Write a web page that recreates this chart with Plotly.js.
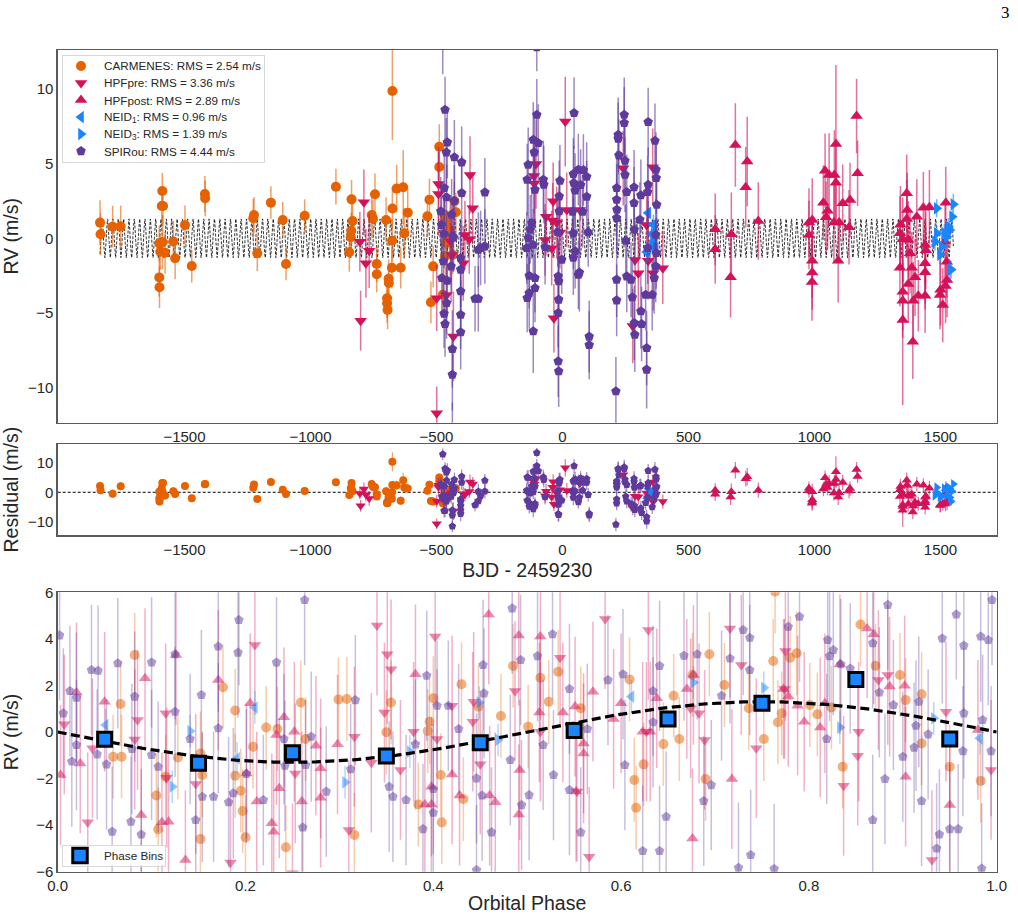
<!DOCTYPE html>
<html>
<head>
<meta charset="utf-8">
<script src="https://cdn.plot.ly/plotly-3.0.1.min.js"></script>
<style>
  html, body { margin: 0; padding: 0; background: #ffffff; }
  #chart { width: 1018px; height: 914px; }
</style>
</head>
<body>
<div id="chart"></div>
<script>
// ---- Time series: [BJD - 2459230, RV (m/s), sigma (m/s)] per instrument ----
const carmenesRows = [
  [-1835, 1.05, 1.5], [-1833, 0.27, 1.4], [-1785, 0.78, 1.4], [-1753, 0.80, 1.4],
  [-1600, -0.34, 1.2], [-1588, 3.17, 1.2], [-1590, 2.16, 1.3], [-1585, 2.16, 1.3],
  [-1587, -0.25, 1.8], [-1596, -0.90, 1.2], [-1600, -2.62, 1.3], [-1599, -3.28, 1.4],
  [-1577, -0.97, 1.4], [-1544, -0.22, 1.4], [-1537, -1.34, 1.4], [-1498, 0.89, 1.3],
  [-1471, -1.86, 1.1], [-1419, 2.97, 1.2], [-1418, 2.68, 1.2], [-1227, 1.34, 1.3],
  [-1224, 1.56, 1.2], [-1211, -1.00, 1.2], [-1157, 2.39, 1.1], [-1110, 1.23, 1.2],
  [-1097, -1.72, 1.1], [-1023, 1.51, 1.1], [-899, 3.46, 1.2], [-837, 2.61, 1.3],
  [-833, 1.16, 1.2], [-838, 0.51, 1.2], [-840, 0.07, 1.2], [-846, -0.94, 1.3],
  [-757, 1.56, 1.5], [-752, 1.30, 1.3], [-744, 2.95, 1.4], [-737, -1.72, 1.2],
  [-737, -2.41, 1.2], [-700, 1.23, 1.5], [-690, -2.71, 1.3], [-689, -3.00, 1.3],
  [-696, -4.02, 1.3], [-696, -4.35, 1.3], [-694, -4.80, 1.3], [-675, 9.87, 3.3],
  [-675, 2.00, 1.4], [-676, -0.16, 1.4], [-677, -1.97, 1.4], [-658, 3.33, 1.6],
  [-642, -1.97, 1.4], [-632, 3.42, 2.5], [-628, 0.33, 1.7], [-614, 1.72, 1.6],
  [-528, 2.59, 1.4], [-536, 1.47, 1.4], [-513, -1.88, 1.4], [-522, -4.29, 1.4],
  [-489, 6.14, 1.5], [-489, 4.78, 1.5], [-466, 1.10, 1.4], [-462, -0.30, 1.4],
  [-466, -1.20, 1.3], [-446, 0.30, 1.3], [-423, 1.74, 1.3], [-429, 2.48, 1.3],
  [-449, 0.58, 1.3], [-460, -0.32, 1.3], [-475, -3.78, 1.4], [-468, 1.58, 1.3],
  [-436, -1.10, 1.3]
];
const hpfPreRows = [
  [-788, 2.41, 2.2], [-804, -0.23, 2.0], [-767, -0.83, 2.5], [-780, -1.68, 2.3],
  [-801, -5.52, 2.0], [-499, -4.02, 2.2], [-499, -11.73, 1.8], [-492, 3.64, 2.5],
  [-492, 2.97, 2.8], [-460, -3.80, 2.6], [-433, -6.59, 3.0], [-440, -1.12, 2.5],
  [-445, -0.20, 2.5], [-367, 4.24, 2.6], [-356, 2.01, 2.4], [-387, 0.22, 2.3],
  [-370, -0.07, 2.3], [-394, -1.68, 2.5], [11, 7.82, 3.0], [-105, 4.98, 3.0],
  [-113, 4.17, 2.5], [-112, 3.68, 2.5], [-65, 1.45, 2.6], [-39, 1.20, 2.5],
  [-37, 2.48, 2.6], [-23, 1.05, 2.4], [-10, 0.38, 2.4], [-69, -0.11, 2.4],
  [-43, -0.67, 2.5], [-34, -5.36, 2.3], [17, 1.90, 2.5], [69, 1.90, 2.5],
  [241, 4.69, 2.5], [288, -1.45, 2.6], [301, -2.35, 2.7], [279, -5.88, 2.5],
  [358, 4.76, 2.6], [334, 0.89, 2.5], [340, -1.50, 2.6], [398, -2.01, 2.4],
  [360, -2.35, 2.5]
];
const hpfPostRows = [
  [686, 6.25, 2.8], [733, 5.14, 3.0], [727, 3.42, 2.7], [777, 1.16, 2.6],
  [606, 0.60, 2.4], [606, -0.74, 2.3], [670, 0.27, 2.8], [667, -2.61, 2.7],
  [978, 1.05, 2.3], [991, 1.23, 2.8], [978, 0.22, 2.3], [991, -1.50, 2.5],
  [991, -2.30, 2.5], [990, -2.93, 2.6], [1042, 4.53, 2.5], [1058, 4.24, 2.8],
  [1079, 4.24, 3.0], [1085, 6.32, 5.3], [1085, 3.73, 2.8], [1035, 2.39, 2.5],
  [1052, 1.85, 2.6], [1046, 1.41, 2.4], [1077, 1.05, 2.6], [1098, 1.05, 2.5],
  [1112, 2.35, 2.6], [1141, 2.57, 2.5], [1137, 0.74, 2.5], [1167, 8.20, 2.5],
  [1171, 4.36, 2.2], [1094, -1.50, 2.8], [1339, 0.33, 2.5], [1341, 0.90, 2.6],
  [1366, 3.02, 2.6], [1368, 1.90, 2.5], [1366, 1.30, 2.6], [1350, -0.07, 2.8],
  [1372, -0.10, 2.6], [1379, -1.00, 2.7], [1339, -1.97, 2.6], [1386, -1.97, 2.4],
  [1350, -3.58, 2.6], [1350, -4.18, 2.5], [1350, -5.47, 5.7], [1372, -3.06, 2.6],
  [1399, -2.61, 2.6], [1392, -4.18, 2.6], [1390, -6.93, 2.5], [1406, 1.45, 2.5],
  [1412, -3.85, 2.4], [1432, 2.05, 2.4], [1439, -0.45, 2.6], [1439, -1.68, 2.7],
  [1439, -2.28, 2.5], [1439, -3.85, 2.5], [1456, 2.08, 2.5], [1442, -0.80, 2.6],
  [1521, 2.39, 2.4], [1518, -0.23, 2.5], [1525, -1.57, 2.4], [1526, -2.80, 2.5],
  [1498, -3.80, 2.3], [1509, -4.47, 2.5], [1500, -3.45, 2.4], [1520, -3.20, 2.5]
];
const neid1Rows = [
  [340, 1.70, 0.8], [361, 0.90, 0.7], [355, 0.30, 0.7], [361, -0.20, 0.7],
  [370, -0.65, 0.7], [334, -0.92, 0.7], [350, -0.50, 0.6], [366, 0.10, 0.7]
];
const neid3Rows = [
  [1485, 2.01, 0.6], [1551, 2.28, 0.7], [1546, 1.45, 0.6], [1531, 0.78, 0.6],
  [1537, 0.55, 0.6], [1485, 0.33, 0.6], [1478, -0.23, 0.6], [1505, -0.56, 0.6],
  [1498, -1.12, 0.6], [1525, 0.10, 0.6], [1538, -2.12, 0.7], [1542, -2.10, 0.6],
  [1515, 0.35, 0.6]
];
const spirouRows = [
  [-475, 13.0, 2.0], [-466, 8.62, 2.2], [-457, 6.43, 2.4], [-461, 5.76, 2.3],
  [-429, 5.43, 2.5], [-400, 5.09, 2.4], [-400, 3.04, 2.5], [-308, 3.08, 2.3],
  [-469, 3.37, 2.3], [-460, 2.75, 2.2], [-429, 2.52, 2.4], [-483, 1.81, 2.3],
  [-440, 1.58, 2.4], [-436, 0.13, 2.3], [-432, 0.05, 2.3], [-334, -0.76, 2.5],
  [-325, -0.65, 2.5], [-308, -0.54, 2.5], [-473, -1.54, 2.2], [-442, -1.88, 2.4],
  [-404, -1.32, 2.5], [-404, -2.10, 2.5], [-479, -2.66, 2.3], [-457, -2.84, 2.4],
  [-404, -3.55, 2.5], [-460, -4.34, 2.4], [-347, -4.05, 2.2], [-334, -4.05, 2.2],
  [-470, -5.05, 2.3], [-466, -5.74, 2.2], [-404, -5.12, 2.3], [-404, -6.30, 2.5],
  [-437, -7.42, 2.6], [-437, -9.14, 2.4], [-437, -12.9, 1.9], [-480, 0.90, 2.2],
  [-470, 0.30, 2.3],
  [-102, 12.8, 1.6], [-102, 8.28, 2.4], [-116, 6.61, 2.5], [-96, 6.39, 2.6],
  [-112, 5.76, 2.5], [-136, 4.93, 2.5], [-140, 3.93, 2.4], [-76, 3.93, 2.6],
  [-74, 3.60, 2.6], [-109, 3.26, 2.5], [-10, 3.86, 2.4], [-13, 2.81, 2.4],
  [-13, 1.81, 2.4], [46, 8.40, 2.4], [43, 4.31, 2.4], [63, 4.60, 2.4],
  [45, 3.70, 2.5], [50, 3.20, 2.5], [-122, 1.03, 2.4], [-128, 0.60, 2.3],
  [-136, 0.02, 2.4], [-116, -0.43, 2.4], [-142, -0.65, 2.4], [-69, -0.60, 2.5],
  [-3, -1.43, 2.3], [50, -0.87, 2.5], [63, -2.44, 2.3], [-132, -2.51, 2.2],
  [-109, -2.66, 2.3], [-109, -3.33, 2.3], [-132, -3.67, 2.4], [-140, -4.00, 2.3],
  [-17, -2.55, 2.4], [-15, -2.88, 2.4], [-15, -4.11, 2.4], [-17, -5.00, 2.3],
  [-116, -6.23, 2.8], [-17, -8.24, 2.4], [-15, -8.91, 2.4], [83, 4.58, 2.4],
  [96, 4.13, 2.3], [72, 3.57, 2.4], [96, 2.79, 2.4], [40, 1.78, 2.4],
  [80, 1.78, 2.4], [43, 0.33, 2.4], [102, 0.40, 2.3], [43, -1.30, 2.5],
  [67, -2.30, 2.6], [106, -6.59, 2.4], [106, -7.15, 2.3], [-19, 0.40, 2.3],
  [245, 8.28, 2.5], [245, 7.73, 2.4], [221, 6.94, 2.5], [221, 6.68, 2.4],
  [224, 5.56, 2.4], [248, 5.20, 2.4], [248, 4.26, 2.5], [215, 3.37, 2.5],
  [215, 2.59, 2.4], [216, 1.92, 2.4], [215, 1.36, 2.4], [255, 3.10, 2.5],
  [284, 3.42, 2.5], [284, 2.37, 2.4], [311, 2.88, 2.4], [340, 7.79, 2.3],
  [367, 6.54, 2.5], [371, 4.60, 2.5], [372, 4.04, 2.4], [340, 3.59, 2.5],
  [338, 3.10, 2.4], [374, 2.25, 2.4], [307, 1.25, 2.5], [285, 0.58, 2.4],
  [251, -0.16, 2.4], [338, -0.65, 2.4], [370, 0.24, 2.4], [372, -0.99, 2.4],
  [370, -1.88, 2.4], [364, -2.66, 2.4], [215, -2.77, 2.5], [215, -4.16, 2.4],
  [255, -2.55, 2.4], [272, -2.77, 2.5], [277, -3.95, 2.5], [330, -3.78, 2.4],
  [356, -3.78, 2.4], [311, -4.89, 2.5], [285, -5.68, 2.5], [287, -6.46, 2.5],
  [314, -5.74, 2.5], [334, -7.35, 2.5], [334, -8.80, 2.6], [212, -10.25, 2.3]
];

// ---- Phase-folded RVs: [orbital phase, RV (m/s)] per instrument ----
const carmenesPhase = [
  [0.082, 3.31], [0.067, 1.20], [0.059, -1.06], [0.068, -1.06], [0.105, -2.73], [0.107, -4.18],
  [0.115, -1.92], [0.128, -1.09], [0.152, -0.92], [0.154, -1.85], [0.152, -4.60], [0.176, 1.92],
  [0.189, 0.92], [0.189, -1.88], [0.195, -2.52], [0.197, -3.39], [0.200, -4.52], [0.208, -0.63],
  [0.222, 0.19], [0.234, 0.13], [0.243, -4.95], [0.259, 1.27], [0.264, -0.30], [0.299, 1.40],
  [0.308, 1.42], [0.316, -4.42], [0.355, 1.27], [0.350, -0.01], [0.384, -3.11], [0.394, 0.04],
  [0.396, 0.44], [0.400, 1.45], [0.409, -3.88], [0.408, -1.85], [0.430, 2.05], [0.432, -2.88],
  [0.448, 1.09], [0.472, 0.69], [0.485, 2.84], [0.501, 0.23], [0.514, 2.33], [0.523, 1.30],
  [0.533, 2.59], [0.557, 1.02], [0.609, 2.26], [0.614, -2.06], [0.616, -3.25], [0.624, -1.39],
  [0.645, -0.52], [0.656, 1.56], [0.662, -0.30], [0.676, 2.45], [0.690, -2.02], [0.694, 3.34],
  [0.710, 2.02], [0.736, 1.02], [0.752, -0.30], [0.762, 3.05], [0.764, 6.03], [0.767, 0.42],
  [0.771, 0.80], [0.780, 3.19], [0.787, 3.38], [0.801, 1.16], [0.809, 0.76], [0.824, 1.05],
  [0.836, -1.49], [0.855, 4.62], [0.871, 2.85], [0.897, 2.45], [0.903, 1.37], [0.920, 1.62],
  [0.920, -0.49], [0.950, -1.49], [0.983, -2.10]
];
const hpfPrePhase = [
  [0.007, 0.33], [0.032, -3.88], [0.037, -0.70], [0.082, -0.32], [0.085, 0.52], [0.115, 0.80],
  [0.116, -1.96], [0.147, -2.23], [0.184, -5.61], [0.210, 3.74], [0.253, -1.78], [0.250, -6.07],
  [0.310, -4.21], [0.316, -0.20], [0.334, -1.32], [0.340, 4.57], [0.348, 0.84], [0.351, 3.34],
  [0.355, 2.69], [0.365, -1.63], [0.379, 0.01], [0.402, 4.10], [0.404, -0.30], [0.420, 1.13],
  [0.442, 0.44], [0.443, 1.30], [0.450, -1.39], [0.487, 1.76], [0.514, 0.01], [0.535, 3.19],
  [0.553, -2.56], [0.566, -5.36], [0.583, 4.85], [0.629, 4.38], [0.627, 0.01], [0.674, 1.02],
  [0.683, 0.80], [0.689, -0.34], [0.716, 4.45], [0.728, 2.88], [0.744, -0.70], [0.775, 3.48],
  [0.774, 1.85], [0.837, -2.31], [0.853, 0.01], [0.852, -1.02], [0.874, 2.23], [0.884, 2.45],
  [0.931, -5.50], [0.946, 0.87], [0.994, -1.63]
];
const hpfPostPhase = [
  [0.003, -1.85], [0.020, 1.70], [0.024, -1.35], [0.050, 1.30], [0.089, -3.57], [0.093, 2.31],
  [0.111, -3.88], [0.118, -3.85], [0.126, 3.31], [0.136, -5.50], [0.171, 2.23], [0.205, 1.23],
  [0.201, -1.78], [0.212, -2.99], [0.228, -3.92], [0.230, -4.28], [0.236, -2.42], [0.233, -0.13],
  [0.241, 0.63], [0.252, 0.01], [0.260, -2.99], [0.275, -0.59], [0.280, -1.56], [0.280, -2.82],
  [0.298, -0.53], [0.381, 2.48], [0.391, -3.11], [0.398, -3.11], [0.398, -2.35], [0.420, -1.82],
  [0.428, -2.73], [0.459, 5.05], [0.460, -2.73], [0.466, -3.02], [0.491, 4.14], [0.491, -3.54],
  [0.492, -1.63], [0.513, 0.84], [0.514, 4.10], [0.538, 0.84], [0.551, 1.09], [0.552, -2.56],
  [0.560, -0.49], [0.560, -0.92], [0.570, 1.73], [0.592, 0.56], [0.600, 1.23], [0.623, 0.01],
  [0.638, 1.45], [0.631, 0.01], [0.670, 1.85], [0.676, -4.57], [0.677, 2.45], [0.718, -2.02],
  [0.773, 1.85], [0.778, 1.52], [0.788, 1.13], [0.795, 0.44], [0.812, 0.19], [0.817, 1.23],
  [0.833, 2.91], [0.862, 4.45], [0.869, 4.20], [0.886, 1.95], [0.902, 1.99], [0.903, -1.92],
  [0.950, -3.14], [0.980, 0.09]
];
const neid1Phase = [[0.051, 0.30], [0.191, -1.13], [0.210, 1.05], [0.611, 1.52], [0.982, -0.27]];
const neid3Phase = [
  [0.141, 0.04], [0.122, -2.35], [0.306, -2.16], [0.375, -0.84], [0.449, 1.27],
  [0.469, -0.34], [0.677, 2.13], [0.752, 1.90], [0.833, 0.19], [0.933, 0.59]
];
const spirouPhase = [
  [0.002, 4.15], [0.006, 0.80], [0.013, 1.76], [0.020, 1.47], [0.020, -0.56], [0.015, -1.27],
  [0.036, 2.66], [0.043, 2.63], [0.042, -0.96], [0.052, -1.39], [0.058, -4.28], [0.064, 2.95],
  [0.078, -3.85], [0.079, -0.73], [0.082, 1.52], [0.089, -4.40], [0.100, 2.99], [0.100, -0.99],
  [0.107, -1.49], [0.125, 3.34], [0.125, 0.87], [0.141, -0.30], [0.147, -3.78], [0.153, 1.59],
  [0.154, -2.78], [0.166, -2.78], [0.171, 3.67], [0.171, 0.16], [0.182, -3.02], [0.187, -2.63],
  [0.192, 3.41], [0.193, 4.81], [0.201, -1.80], [0.219, -2.92], [0.233, 2.99], [0.241, -0.30],
  [0.242, -1.45], [0.261, -4.10], [0.263, 5.67], [0.264, -1.42], [0.270, -0.20], [0.286, -2.56],
  [0.317, 1.37], [0.312, -1.60], [0.353, -2.35], [0.357, -2.78], [0.371, -2.92], [0.381, -0.53],
  [0.389, -4.17], [0.393, 2.42], [0.400, -2.45], [0.400, -3.47], [0.404, 1.13], [0.416, 1.13],
  [0.427, 0.13], [0.446, -5.93], [0.446, -1.99], [0.452, -2.73], [0.453, 2.88], [0.454, 1.66],
  [0.462, -4.31], [0.482, -1.20], [0.484, 5.31], [0.493, 3.09], [0.494, -3.14], [0.502, -2.71],
  [0.511, 3.26], [0.517, -0.56], [0.527, 4.20], [0.528, -1.85], [0.545, 1.85], [0.545, -2.49],
  [0.557, -4.31], [0.564, 0.13], [0.586, 2.23], [0.602, 2.48], [0.604, -1.42], [0.623, -5.11],
  [0.634, 1.76], [0.634, 0.42], [0.641, -5.11], [0.641, 2.84], [0.648, -3.64], [0.667, 3.28],
  [0.681, 3.34], [0.688, -2.96], [0.696, -2.28], [0.707, 1.56], [0.716, 3.16], [0.725, -5.83],
  [0.730, 4.38], [0.737, 4.05], [0.737, 2.66], [0.738, -5.28], [0.763, -5.88], [0.778, 4.52],
  [0.790, 4.95], [0.819, -0.30], [0.820, 3.95], [0.822, 3.26], [0.826, 3.52], [0.834, 2.91],
  [0.844, 2.73], [0.868, 3.81], [0.868, -3.78], [0.875, 1.70], [0.881, -2.02], [0.884, 5.46],
  [0.890, 1.16], [0.900, -1.06], [0.912, -0.67], [0.914, 0.27], [0.917, 1.30], [0.920, -2.96],
  [0.927, -0.10], [0.936, -5.00], [0.939, -4.40], [0.942, 4.02], [0.950, -4.17], [0.957, 5.05],
  [0.959, -4.17], [0.964, -0.82], [0.965, 3.71], [0.965, 0.80], [0.983, 4.10], [0.984, -5.86],
  [0.985, 0.52], [0.991, 3.95], [0.994, -0.82], [0.995, 5.67]
];
// typical per-point uncertainty for each instrument in the folded panel (m/s)
const phaseSigma = { carmenes: 1.8, hpfPre: 3.0, hpfPost: 3.0, neid: 0.7, spirou: 2.8 };

// ---- Binned phase curve ----
const binPhase = [0.05, 0.15, 0.25, 0.35, 0.45, 0.55, 0.65, 0.75, 0.85, 0.95];
const binRV    = [-0.31, -1.34, -0.89, -1.03, -0.46, 0.06, 0.56, 1.23, 2.26, -0.30];

// ---- Instrument labels ----
const labels = {
  carmenes: 'CARMENES: RMS = 2.54 m/s',
  hpfPre:   'HPFpre: RMS = 3.36 m/s',
  hpfPost:  'HPFpost: RMS = 2.89 m/s',
  neid1:    'NEID<sub>1</sub>: RMS = 0.96 m/s',
  neid3:    'NEID<sub>3</sub>: RMS = 1.39 m/s',
  spirou:   'SPIRou: RMS = 4.44 m/s'
};
const binLabel = 'Phase Bins';

// ---- Circular-orbit model ----
const K_SEMI = 1.3;       // semi-amplitude, m/s
const PERIOD = 21.2;      // days
const T_REF = -1800;      // reference epoch, BJD - 2459230
const T_START = -1835, T_END = 1551;

function orbitRV(t) { return -K_SEMI * Math.sin(2 * Math.PI * (t - T_REF) / PERIOD); }

const modelT = [];
for (let t = T_START; t <= T_END; t += 0.5) modelT.push(t);
const modelV = modelT.map(orbitRV);

const foldPhase = [];
for (let i = 0; i <= 200; i++) foldPhase.push(i / 200);
const foldV = foldPhase.map(p => -K_SEMI * Math.sin(2 * Math.PI * p));

// ---- Styling ----
const COL = { carmenes: '#E66100', hpf: '#D41159', neid: '#1A85FF', spirou: '#5D3A9B' };
function rgba(hex, a) {
  const n = parseInt(hex.slice(1), 16);
  return `rgba(${(n >> 16) & 255},${(n >> 8) & 255},${n & 255},${a})`;
}
const FONT = 'Liberation Sans, Arial, Helvetica, sans-serif';
const LEGEND_FONT = { family: FONT, size: 11.7, color: '#262626' };

const instruments = [
  { key: 'carmenes', rows: carmenesRows, phase: carmenesPhase, color: COL.carmenes, symbol: 'circle', size: 10, sig: phaseSigma.carmenes },
  { key: 'hpfPre', rows: hpfPreRows, phase: hpfPrePhase, color: COL.hpf, symbol: 'triangle-down', size: 11, sig: phaseSigma.hpfPre },
  { key: 'hpfPost', rows: hpfPostRows, phase: hpfPostPhase, color: COL.hpf, symbol: 'triangle-up', size: 11, sig: phaseSigma.hpfPost },
  { key: 'neid1', rows: neid1Rows, phase: neid1Phase, color: COL.neid, symbol: 'triangle-left', size: 11, sig: phaseSigma.neid },
  { key: 'neid3', rows: neid3Rows, phase: neid3Phase, color: COL.neid, symbol: 'triangle-right', size: 11, sig: phaseSigma.neid },
  { key: 'spirou', rows: spirouRows, phase: spirouPhase, color: COL.spirou, symbol: 'pentagon', size: 10, sig: phaseSigma.spirou }
];

const traces = [];

// model curve in the time-series panel
traces.push({
  x: modelT, y: modelV, xaxis: 'x', yaxis: 'y', type: 'scatter', mode: 'lines',
  line: { color: '#000000', width: 0.8, dash: '3px,1.5px' }, showlegend: false, hoverinfo: 'skip'
});

// time series + residuals
instruments.forEach(ins => {
  const t = ins.rows.map(r => r[0]);
  const v = ins.rows.map(r => r[1]);
  const e = ins.rows.map(r => r[2]);
  const res = ins.rows.map(r => r[1] - orbitRV(r[0]));
  traces.push({
    x: t, y: v, xaxis: 'x', yaxis: 'y', type: 'scatter', mode: 'markers', showlegend: false,
    marker: { color: ins.color, symbol: ins.symbol, size: ins.size, line: { width: 0 } },
    error_y: { type: 'data', array: e, visible: true, color: rgba(ins.color, 0.6), thickness: 1.5, width: 0 }
  });
  traces.push({
    x: t, y: res, xaxis: 'x2', yaxis: 'y2', type: 'scatter', mode: 'markers', showlegend: false,
    marker: { color: ins.color, symbol: ins.symbol, size: ins.size - 2, line: { width: 0 } },
    error_y: { type: 'data', array: e, visible: true, color: rgba(ins.color, 0.6), thickness: 1.2, width: 0 }
  });
});

// phase-folded points
instruments.forEach(ins => {
  traces.push({
    x: ins.phase.map(r => r[0]), y: ins.phase.map(r => r[1]), xaxis: 'x3', yaxis: 'y3',
    type: 'scatter', mode: 'markers', showlegend: false,
    marker: { color: rgba(ins.color, 0.5), symbol: ins.symbol, size: ins.size, line: { width: 0 } },
    error_y: { type: 'constant', value: ins.sig, visible: true, color: rgba(ins.color, 0.33), thickness: 1.5, width: 0 }
  });
});

// folded model curve
traces.push({
  x: foldPhase, y: foldV, xaxis: 'x3', yaxis: 'y3', type: 'scatter', mode: 'lines',
  line: { color: '#000000', width: 3.2, dash: '9px,4.5px' }, showlegend: false, hoverinfo: 'skip'
});

// phase bins
traces.push({
  x: binPhase, y: binRV, xaxis: 'x3', yaxis: 'y3', type: 'scatter', mode: 'markers', showlegend: false,
  marker: { color: '#1A85FF', symbol: 'square', size: 14, line: { color: '#000000', width: 3 } }
});

// ---- Legend keys: one row per instrument in an inset box ----
const LEG_KEY_X = 17.7, LEG_TEXT_X = 38.4;   // px from the box's left edge
instruments.forEach((ins, i) => {
  traces.push({
    x: [LEG_KEY_X], y: [i], xaxis: 'x4', yaxis: 'y4', type: 'scatter', mode: 'markers',
    showlegend: false, hoverinfo: 'skip',
    marker: { color: ins.color, symbol: ins.symbol, size: ins.size, line: { width: 0 } }
  });
});
traces.push({
  x: [16.7], y: [0], xaxis: 'x5', yaxis: 'y5', type: 'scatter', mode: 'markers',
  showlegend: false, hoverinfo: 'skip',
  marker: { color: '#1A85FF', symbol: 'square', size: 14.5, line: { color: '#000000', width: 3 } }
});

const axisCommon = {
  showgrid: false, zeroline: false, showline: true, mirror: true,
  linecolor: '#5a5a5a', linewidth: 1.3, ticks: '',
  tickfont: { family: FONT, size: 15, color: '#262626' }
};
const legendAxis = {
  showgrid: false, zeroline: false, showline: true, mirror: true,
  linecolor: '#d8d8d8', linewidth: 1, ticks: '', showticklabels: false, fixedrange: true
};
const titleFont = { family: FONT, size: 19.5, color: '#262626' };

const W = 1018, H = 914;
const px = v => v / W, py = v => 1 - v / H;
const xDomain = [px(57.7), px(996.7)];

const legendAnnotations = instruments.map((ins, i) => ({
  text: labels[ins.key], xref: 'x4', yref: 'y4', x: LEG_TEXT_X, y: i,
  xanchor: 'left', yanchor: 'middle', showarrow: false, font: LEGEND_FONT
}));
legendAnnotations.push({
  text: binLabel, xref: 'x5', yref: 'y5', x: LEG_TEXT_X, y: 0,
  xanchor: 'left', yanchor: 'middle', showarrow: false, font: LEGEND_FONT
});

const layout = {
  width: W, height: H,
  margin: { l: 0, r: 0, t: 0, b: 0 },
  paper_bgcolor: '#ffffff', plot_bgcolor: '#ffffff',
  font: { family: FONT, color: '#262626' },
  showlegend: false,
  xaxis: Object.assign({}, axisCommon, {
    domain: xDomain, anchor: 'y', range: [-2003, 1723],
    tickvals: [-1500, -1000, -500, 0, 500, 1000, 1500]
  }),
  yaxis: Object.assign({}, axisCommon, {
    domain: [py(422.7), py(50)], anchor: 'x', range: [-12.36, 12.62],
    tickvals: [-10, -5, 0, 5, 10], title: { text: 'RV (m/s)', font: titleFont, standoff: 12 }
  }),
  xaxis2: Object.assign({}, axisCommon, {
    domain: xDomain, anchor: 'y2', range: [-2003, 1723],
    tickvals: [-1500, -1000, -500, 0, 500, 1000, 1500],
    title: { text: 'BJD - 2459230', font: titleFont, standoff: 6 }
  }),
  yaxis2: Object.assign({}, axisCommon, {
    domain: [py(535.3), py(444)], anchor: 'x2', range: [-14.7, 16.5],
    tickvals: [-10, 0, 10], title: { text: 'Residual (m/s)', font: titleFont, standoff: 12 }
  }),
  xaxis3: Object.assign({}, axisCommon, {
    domain: xDomain, anchor: 'y3', range: [0, 1],
    tickvals: [0, 0.2, 0.4, 0.6, 0.8, 1.0], ticktext: ['0.0', '0.2', '0.4', '0.6', '0.8', '1.0'],
    title: { text: 'Orbital Phase', font: titleFont, standoff: 6 }
  }),
  yaxis3: Object.assign({}, axisCommon, {
    domain: [py(871.7), py(592.3)], anchor: 'x3', range: [-6, 6],
    tickvals: [-6, -4, -2, 0, 2, 4, 6], title: { text: 'RV (m/s)', font: titleFont, standoff: 12 }
  }),
  // inset box holding the instrument key (x in px from box left, y in rows)
  xaxis4: Object.assign({}, legendAxis, { domain: [px(63.3), px(264)], anchor: 'y4', range: [0, 264 - 63.3] }),
  yaxis4: Object.assign({}, legendAxis, { domain: [py(162), py(56)], anchor: 'x4', range: [5.64, -0.585] }),
  // inset box holding the phase-bin key
  xaxis5: Object.assign({}, legendAxis, { domain: [px(63.3), px(165)], anchor: 'y5', range: [0, 165 - 63.3] }),
  yaxis5: Object.assign({}, legendAxis, { domain: [py(865.5), py(845.5)], anchor: 'x5', range: [0.5, -0.5] }),
  shapes: [{
    type: 'line', xref: 'x2 domain', x0: 0, x1: 1, yref: 'y2', y0: 0, y1: 0,
    line: { color: '#000000', width: 1, dash: '3px,2px' }, layer: 'below'
  }],
  annotations: legendAnnotations.concat([{
    text: '3', xref: 'paper', yref: 'paper', x: px(1005), y: py(12),
    xanchor: 'center', yanchor: 'middle', showarrow: false,
    font: { family: 'Liberation Serif, DejaVu Serif, serif', size: 17, color: '#000000' }
  }])
};

Plotly.newPlot('chart', traces, layout, { staticPlot: true, displayModeBar: false });
</script>
</body>
</html>
